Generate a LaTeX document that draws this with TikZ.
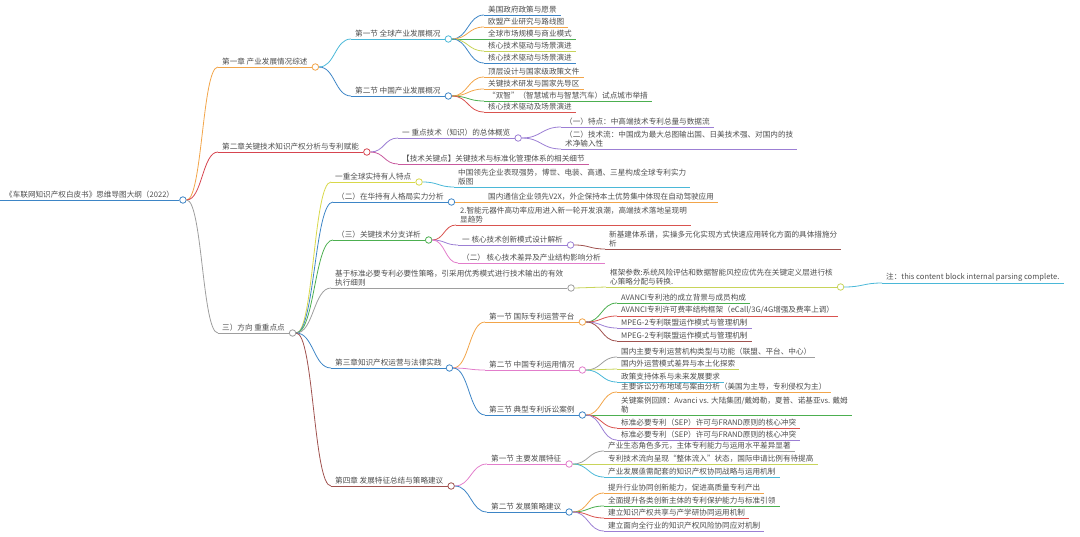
\documentclass[tikz,border=0pt]{standalone}
\usepackage{fontspec}
\usepackage{xcolor}
\usepackage{tikz}
\usetikzlibrary{calc}
\newfontfamily\cjk{Noto Sans CJK SC}
\definecolor{ink}{HTML}{4D4D4D}
\definecolor{mmblue}{HTML}{3D85C6}
\definecolor{mmcyan}{HTML}{4BB8D8}
\definecolor{mmorange}{HTML}{F2A54A}
\definecolor{mmred}{HTML}{D9534F}
\definecolor{mmcrimson}{HTML}{D64550}
\definecolor{mmgreen}{HTML}{4CAF50}
\definecolor{mmlime}{HTML}{C8D45A}
\definecolor{mmyellow}{HTML}{D8D84A}
\definecolor{mmpurple}{HTML}{9C7FD4}
\definecolor{mmpink}{HTML}{E27DCB}
\definecolor{mmmagenta}{HTML}{C85A9E}
\definecolor{mmgray}{HTML}{9E9E9E}
\definecolor{mmbrown}{HTML}{A0524F}

\begin{document}
\begin{tikzpicture}[
    x=1pt, y=-1pt,
    topic/.style={anchor=south west, inner xsep=4pt, inner ysep=1.6pt, align=left,
        font=\cjk\fontsize{7.6}{9.4}\selectfont, text=ink,
        append after command={(\tikzlastnode.south west) edge[draw=#1, line width=0.8pt] (\tikzlastnode.south east)}},
    hub/.style={circle, draw=#1, fill=white, line width=0.8pt, inner sep=0pt, minimum size=6.5pt, anchor=west},
    link/.style={draw=#1, line width=0.8pt,
        to path={let \p1=(\tikztostart), \p2=(\tikztotarget) in
            .. controls ({(\x1+\x2)/2},\y1) and ({(\x1+\x2)/2},\y2) .. (\tikztotarget)}}
]
\useasboundingbox (0,0) rectangle (1080,536);

% Root
\node[topic=mmblue, inner xsep=5pt] (root) at (0,200) {《车联网知识产权白皮书》思维导图大纲（2022）};
\node[hub=mmblue] (rooto) at (root.south east) {};

% Chapter 1
\node[topic=mmorange] (ch1) at (218,67) {第一章 产业发展情况综述};
\node[hub=mmorange] (ch1o) at (ch1.south east) {};
\node[topic=mmcyan] (ch1g) at (351,39) {第一节 全球产业发展概况};
\node[hub=mmcyan] (ch1go) at (ch1g.south east) {};
\node[topic=mmblue] (ch1g1) at (484,15) {美国政府政策与愿景};
\node[topic=mmorange] (ch1g2) at (484,27) {欧盟产业研究与路线图};
\node[topic=mmgreen] (ch1g3) at (484,39) {全球市场规模与商业模式};
\node[topic=mmlime] (ch1g4) at (484,51) {核心技术驱动与场景演进};
\node[topic=mmblue] (ch1g5) at (484,63) {核心技术驱动与场景演进};
\node[topic=mmblue] (ch1c) at (351,96) {第二节 中国产业发展概况};
\node[hub=mmblue] (ch1co) at (ch1c.south east) {};
\node[topic=mmorange] (ch1c1) at (484,77) {顶层设计与国家级政策文件};
\node[topic=mmorange] (ch1c2) at (484,89) {关键技术研发与国家先导区};
\node[topic=mmgreen] (ch1c3) at (484,101) {“双智”（智慧城市与智慧汽车）试点城市举措};
\node[topic=mmred] (ch1c4) at (484,112) {核心技术驱动及场景演进};

\draw[link=mmorange] (rooto.east) to (ch1.south west);
\draw[link=mmcyan] (ch1o.east) to (ch1g.south west);
\draw[link=mmblue] (ch1o.east) to (ch1c.south west);
\draw[link=mmblue] (ch1go.east) to (ch1g1.south west);
\draw[link=mmorange] (ch1go.east) to (ch1g2.south west);
\draw[link=mmgreen] (ch1go.east) to (ch1g3.south west);
\draw[link=mmlime] (ch1go.east) to (ch1g4.south west);
\draw[link=mmblue] (ch1go.east) to (ch1g5.south west);
\draw[link=mmorange] (ch1co.east) to (ch1c1.south west);
\draw[link=mmorange] (ch1co.east) to (ch1c2.south west);
\draw[link=mmgreen] (ch1co.east) to (ch1c3.south west);
\draw[link=mmred] (ch1co.east) to (ch1c4.south west);

% Chapter 2
\node[topic=mmcrimson] (ch2) at (218,152) {第二章关键技术知识产权分析与专利赋能};
\node[hub=mmcrimson] (ch2o) at (ch2.south east) {};
\node[topic=mmpurple] (ch2a) at (398,138) {一 重点技术（知识）的总体概览};
\node[hub=mmpurple] (ch2ao) at (ch2a.south east) {};
\node[topic=mmpurple] (ch2a1) at (561,127) {（一）特点：中高端技术专利总量与数据流};
\node[topic=mmpurple] (ch2a2) at (561,149) {（二）技术流：中国成为最大总图输出国、日美技术强、对国内的技\\术净输入性};
\node[topic=mmmagenta] (ch2b) at (398,164) {【技术关键点】关键技术与标准化管理体系的相关细节};

\draw[link=mmcrimson] (rooto.east) to (ch2.south west);
\draw[link=mmpurple] (ch2o.east) to (ch2a.south west);
\draw[link=mmmagenta] (ch2o.east) to (ch2b.south west);
\draw[link=mmpurple] (ch2ao.east) to (ch2a1.south west);
\draw[link=mmpurple] (ch2ao.east) to (ch2a2.south west);

% Focus branch
\node[topic=mmgray] (focus) at (218,333) {三）方向 重重点点};
\node[hub=mmgray] (focuso) at (focus.south east) {};
\node[topic=mmyellow] (fc1) at (331,182) {一重全球实持有人特点};
\node[hub=mmyellow] (fc1o) at (fc1.south east) {};
\node[topic=mmcyan] (fc11) at (454,187) {中国领先企业表现强势，博世、电装、高通、三星构成全球专利实力\\版图};
\node[topic=mmblue] (fc2) at (333,202) {（二）在华持有人格局实力分析};
\node[hub=mmblue] (fc2o) at (fc2.south east) {};
\node[topic=mmorange] (fc21) at (484,202) {国内通信企业领先V2X，外企保持本土优势集中体现在自动驾驶应用};
\node[topic=mmgreen] (fc3) at (333,240) {（三）关键技术分支详析};
\node[hub=mmgreen] (fc3o) at (fc3.south east) {};
\node[topic=mmred] (fc31) at (456,225) {2.智能元器件高功率应用进入新一轮开发浪潮，高端技术落地呈现明\\显趋势};
\node[topic=mmpurple] (fc32) at (458,245) {一 核心技术创新模式设计解析};
\node[hub=mmpurple] (fc32o) at (fc32.south east) {};
\node[topic=mmbrown] (fc321) at (605,249) {新基建体系谱，实操多元化实现方式快速应用转化方面的具体措施分\\析};
\node[topic=mmpink] (fc33) at (458,263) {（二） 核心技术差异及产业结构影响分析};
\node[topic=mmgray] (fc4) at (331,288) {基于标准必要专利必要性策略，引采用优秀模式进行技术输出的有效\\执行细则};
\node[hub=mmgray] (fc4o) at (fc4.south east) {};
\node[topic=mmlime] (fc41) at (606,287) {框架参数:系统风险评估和数据智能风控应优先在关键定义层进行核\\心策略分配与转换.};
\node[hub=mmlime] (fc41o) at (fc41.south east) {};
\node[topic=mmcyan] (fc411) at (882,283) {注：this content block internal parsing complete.};

\draw[link=mmgray] (rooto.east) to (focus.south west);
\draw[link=mmyellow] (focuso.east) to (fc1.south west);
\draw[link=mmblue] (focuso.east) to (fc2.south west);
\draw[link=mmgreen] (focuso.east) to (fc3.south west);
\draw[link=mmgray] (focuso.east) to (fc4.south west);
\draw[link=mmcyan] (fc1o.east) to (fc11.south west);
\draw[link=mmorange] (fc2o.east) to (fc21.south west);
\draw[link=mmred] (fc3o.east) to (fc31.south west);
\draw[link=mmpurple] (fc3o.east) to (fc32.south west);
\draw[link=mmpink] (fc3o.east) to (fc33.south west);
\draw[link=mmbrown] (fc32o.east) to (fc321.south west);
\draw[link=mmlime] (fc4o.east) to (fc41.south west);
\draw[link=mmcyan] (fc41o.east) to (fc411.south west);

% Chapter 3
\node[topic=mmblue] (ch3) at (331,368) {第三章知识产权运营与法律实践};
\node[hub=mmblue] (ch3o) at (ch3.south east) {};
\node[topic=mmorange] (ch3a) at (485,322) {第一节 国际专利运营平台};
\node[hub=mmorange] (ch3ao) at (ch3a.south east) {};
\node[topic=mmgreen] (ch3a1) at (617,303) {AVANCI专利池的成立背景与成员构成};
\node[topic=mmred] (ch3a2) at (617,316) {AVANCI专利许可费率结构框架（eCall/3G/4G增强及费率上调）};
\node[topic=mmpurple] (ch3a3) at (617,328) {MPEG-2专利联盟运作模式与管理机制};
\node[topic=mmbrown] (ch3a4) at (617,341) {MPEG-2专利联盟运作模式与管理机制};
\node[topic=mmpink] (ch3b) at (485,370) {第二节 中国专利运用情况};
\node[hub=mmpink] (ch3bo) at (ch3b.south east) {};
\node[topic=mmgray] (ch3b1) at (617,357) {国内主要专利运营机构类型与功能（联盟、平台、中心）};
\node[topic=mmlime] (ch3b2) at (617,369) {国内外运营模式差异与本土化探索};
\node[topic=mmcyan] (ch3b3) at (617,382) {政策支持体系与未来发展要求};
\node[topic=mmblue] (ch3c) at (485,415) {第三节 典型专利诉讼案例};
\node[hub=mmblue] (ch3co) at (ch3c.south east) {};
\node[topic=mmorange] (ch3c1) at (617,392) {主要诉讼分布地域与案由分析（美国为主导，专利侵权为主）};
\node[topic=mmgreen] (ch3c2) at (617,415) {关键案例回顾：Avanci vs. 大陆集团/戴姆勒，夏普、诺基亚vs. 戴姆\\勒};
\node[topic=mmred] (ch3c3) at (617,428) {标准必要专利（SEP）许可与FRAND原则的核心冲突};
\node[topic=mmpurple] (ch3c4) at (617,440) {标准必要专利（SEP）许可与FRAND原则的核心冲突};

\draw[link=mmblue] (focuso.east) to (ch3.south west);
\draw[link=mmorange] (ch3o.east) to (ch3a.south west);
\draw[link=mmpink] (ch3o.east) to (ch3b.south west);
\draw[link=mmblue] (ch3o.east) to (ch3c.south west);
\draw[link=mmgreen] (ch3ao.east) to (ch3a1.south west);
\draw[link=mmred] (ch3ao.east) to (ch3a2.south west);
\draw[link=mmpurple] (ch3ao.east) to (ch3a3.south west);
\draw[link=mmbrown] (ch3ao.east) to (ch3a4.south west);
\draw[link=mmgray] (ch3bo.east) to (ch3b1.south west);
\draw[link=mmlime] (ch3bo.east) to (ch3b2.south west);
\draw[link=mmcyan] (ch3bo.east) to (ch3b3.south west);
\draw[link=mmorange] (ch3co.east) to (ch3c1.south west);
\draw[link=mmgreen] (ch3co.east) to (ch3c2.south west);
\draw[link=mmred] (ch3co.east) to (ch3c3.south west);
\draw[link=mmpurple] (ch3co.east) to (ch3c4.south west);

% Chapter 4
\node[topic=mmbrown] (ch4) at (331,486) {第四章 发展特征总结与策略建议};
\node[hub=mmbrown] (ch4o) at (ch4.south east) {};
\node[topic=mmpink] (ch4a) at (487,464) {第一节 主要发展特征};
\node[hub=mmpink] (ch4ao) at (ch4a.south east) {};
\node[topic=mmgray] (ch4a1) at (604,451) {产业生态角色多元，主体专利能力与运用水平差异显著};
\node[topic=mmlime] (ch4a2) at (604,464) {专利技术流向呈现“整体流入”状态，国际申请比例有待提高};
\node[topic=mmcyan] (ch4a3) at (604,477) {产业发展亟需配套的知识产权协同战略与运用机制};
\node[topic=mmblue] (ch4b) at (487,512) {第二节 发展策略建议};
\node[hub=mmblue] (ch4bo) at (ch4b.south east) {};
\node[topic=mmorange] (ch4b1) at (604,493) {提升行业协同创新能力，促进高质量专利产出};
\node[topic=mmgreen] (ch4b2) at (604,506) {全面提升各类创新主体的专利保护能力与标准引领};
\node[topic=mmred] (ch4b3) at (604,518) {建立知识产权共享与产学研协同运用机制};
\node[topic=mmpurple] (ch4b4) at (604,531) {建立面向全行业的知识产权风险协同应对机制};

\draw[link=mmbrown] (focuso.east) to (ch4.south west);
\draw[link=mmpink] (ch4o.east) to (ch4a.south west);
\draw[link=mmblue] (ch4o.east) to (ch4b.south west);
\draw[link=mmgray] (ch4ao.east) to (ch4a1.south west);
\draw[link=mmlime] (ch4ao.east) to (ch4a2.south west);
\draw[link=mmcyan] (ch4ao.east) to (ch4a3.south west);
\draw[link=mmorange] (ch4bo.east) to (ch4b1.south west);
\draw[link=mmgreen] (ch4bo.east) to (ch4b2.south west);
\draw[link=mmred] (ch4bo.east) to (ch4b3.south west);
\draw[link=mmpurple] (ch4bo.east) to (ch4b4.south west);

\end{tikzpicture}
\end{document}
